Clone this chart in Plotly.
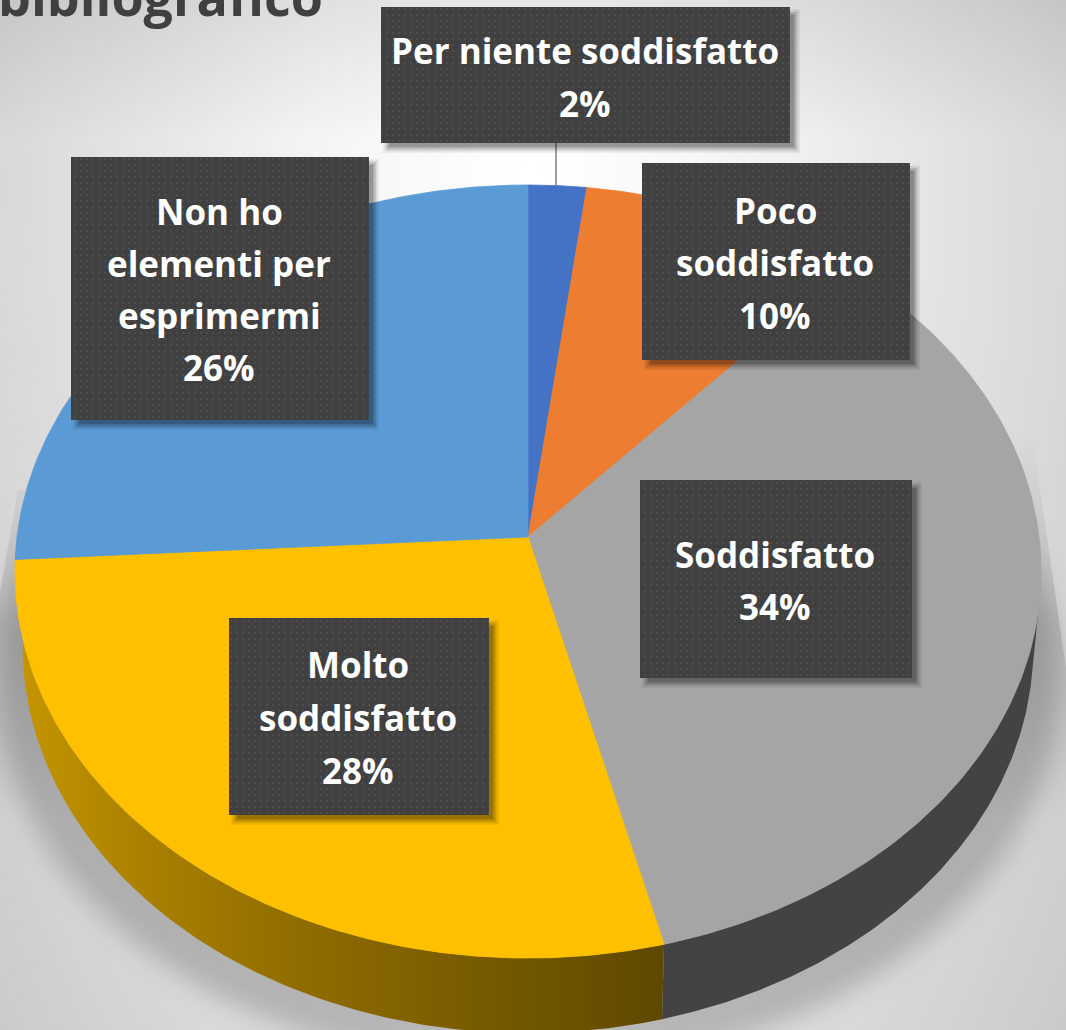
import base64
import numpy as np
import plotly.graph_objects as go

# ---- data ----
categories = ["Per niente soddisfatto", "Poco soddisfatto", "Soddisfatto", "Molto soddisfatto", "Non ho elementi per esprimermi"]
shares = [2, 9.6, 34.49, 27.98, 25.93]
slice_colors = ["#4472c4", "#ed7d31", "#a5a5a5", "#ffc000", "#5b9bd5"]
label_lines = [["Per niente soddisfatto"], ["Poco", "soddisfatto"], ["Soddisfatto"], ["Molto", "soddisfatto"], ["Non ho", "elementi per", "esprimermi"]]
box_left = [381, 642, 640, 229, 71]
box_right = [790, 910, 912, 489, 369]
box_top = [7, 163, 480, 618, 157]
box_bottom = [143, 360, 678, 815, 420]
line_top_y = [50, 210, 554, 664, 211]
line_step = [53, 52.5, 52, 53, 52]
title_text = "bibliografico"

W, H = 1066, 1030
CX, APEX_Y, RX, RY, K = 528, 537, 511, 335.5, -0.0893
DEPTH, BOTTOM_SCALE = 75, 0.985


def rim(p0, p1, scale=1.0, dz=0.0, n=160):
    t = 2 * np.pi * np.linspace(p0, p1, n) / 100
    u, v = np.sin(t), -np.cos(t)
    d = 1 + K * v
    return CX + scale * RX * u / d, (RY * v + APEX_Y) / d + dz


cum = np.concatenate([[0], np.cumsum(shares)])

# ---- background picture: page gradient and the soft pie shadow ----
sx, sy = rim(0, 100, scale=1.035, dz=DEPTH + 36, n=240)
shadow_pts = " ".join(f"{a:.1f},{b:.1f}" for a, b in zip(sx, sy))
svg = f'''<svg xmlns="http://www.w3.org/2000/svg" width="{W}" height="{H}" viewBox="0 0 {W} {H}">
<defs>
<radialGradient id="bg" gradientUnits="userSpaceOnUse" cx="0" cy="0" r="1" gradientTransform="translate(530 190) scale(720 1440)">
<stop offset="0" stop-color="#ffffff"/><stop offset="0.3" stop-color="#f4f4f4"/>
<stop offset="0.74" stop-color="#d8d8d8"/><stop offset="1" stop-color="#c6c6c6"/></radialGradient>
<linearGradient id="topfade" x1="0" y1="0" x2="0" y2="140" gradientUnits="userSpaceOnUse">
<stop offset="0" stop-color="#000" stop-opacity="0.08"/><stop offset="1" stop-color="#000" stop-opacity="0"/></linearGradient>
<linearGradient id="wedge" x1="0" y1="430" x2="0" y2="820" gradientUnits="userSpaceOnUse">
<stop offset="0" stop-color="#000" stop-opacity="0"/><stop offset="0.5" stop-color="#000" stop-opacity="0.13"/>
<stop offset="1" stop-color="#000" stop-opacity="0"/></linearGradient>
<filter id="blur" x="-20%" y="-20%" width="140%" height="140%"><feGaussianBlur stdDeviation="13"/></filter>
</defs>
<rect width="{W}" height="{H}" fill="url(#bg)"/>
<rect width="{W}" height="140" fill="url(#topfade)"/>
<polygon points="1030,420 1088,820 -40,820 18,490" fill="url(#wedge)"/>
<polygon points="{shadow_pts}" fill="#000" fill-opacity="0.19" filter="url(#blur)"/>
</svg>'''
bg_uri = "data:image/svg+xml;base64," + base64.b64encode(svg.encode()).decode()

fig = go.Figure()

# side wall (only its visible lower part)
WALL_START = 28
wx, wy = rim(WALL_START, cum[3])
bx, by = rim(WALL_START, cum[3], BOTTOM_SCALE, DEPTH)
fig.add_trace(go.Scatter(x=np.r_[wx, bx[::-1]], y=np.r_[wy, by[::-1]], mode="lines", fill="toself",
                         fillcolor="#434343", line=dict(width=0), hoverinfo="skip"))
wx, wy = rim(cum[3], cum[4])
bx, by = rim(cum[3], cum[4], BOTTOM_SCALE, DEPTH)
fig.add_trace(go.Scatter(x=np.r_[wx, bx[::-1]], y=np.r_[wy, by[::-1]], mode="lines", fill="toself",
                         line=dict(width=0), hoverinfo="skip",
                         fillgradient=dict(type="horizontal", start=15, stop=663,
                                           colorscale=[[0, "#c59600"], [0.2, "#a98000"], [0.45, "#8f6c00"], [1, "#5f4800"]])))

# top face
for i, c in enumerate(slice_colors):
    ax, ay = rim(cum[i], cum[i + 1])
    fig.add_trace(go.Scatter(x=np.r_[CX, ax, CX], y=np.r_[APEX_Y, ay, APEX_Y], mode="lines", fill="toself",
                             fillcolor=c, line=dict(width=0.8, color=c), hoverinfo="skip", name=categories[i]))

# leader line of the smallest slice
fig.add_trace(go.Scatter(x=[556, 556], y=[box_bottom[0], 186], mode="lines",
                         line=dict(color="#7f7f7f", width=1.5), hoverinfo="skip"))

# soft box shadows
for l, r, t, b in zip(box_left, box_right, box_top, box_bottom):
    for grow, alpha in [(4, 0.05), (2.5, 0.07), (1, 0.09), (-0.5, 0.12), (-2, 0.14)]:
        fig.add_trace(go.Scatter(x=[l + 6 - grow, r + 6 + grow, r + 6 + grow, l + 6 - grow, l + 6 - grow],
                                 y=[t + 6 - grow, t + 6 - grow, b + 6 + grow, b + 6 + grow, t + 6 - grow],
                                 mode="lines", fill="toself", fillcolor=f"rgba(0,0,0,{alpha})",
                                 line=dict(width=0), hoverinfo="skip"))

# label boxes (second axes pair so they sit above the pie)
for l, r, t, b in zip(box_left, box_right, box_top, box_bottom):
    fig.add_trace(go.Bar(x=[(l + r) / 2], y=[b - t], base=[t], width=[r - l], xaxis="x2", yaxis="y2",
                         marker=dict(color="#404040", line=dict(width=0),
                                     pattern=dict(shape=".", size=6, solidity=0.07,
                                                  fgcolor="#666666", bgcolor="#404040")),
                         hoverinfo="skip"))

annotations = []
FONT = "Open Sans"
for lines, share, l, r, y0, step in zip(label_lines, shares, box_left, box_right, line_top_y, line_step):
    rows = lines + [f"{round(share)}%"]
    for j, row in enumerate(rows):
        annotations.append(dict(x=(l + r) / 2 - 1, y=y0 + j * step, xref="x2", yref="y2", text=row, showarrow=False,
                                xanchor="center", yanchor="middle",
                                font=dict(family=FONT, size=35, color="#ffffff", weight="bold")))
annotations.append(dict(x=-4 / W, y=1 - 33 / H, xref="paper", yref="paper", text=title_text, showarrow=False,
                        xanchor="left", yanchor="bottom",
                        font=dict(family=FONT, size=52, color="#404040", weight="bold")))

axis = dict(range=[0, W], visible=False, fixedrange=True)
yaxis = dict(range=[H, 0], visible=False, fixedrange=True)
fig.update_layout(
    width=W, height=H, margin=dict(l=0, r=0, t=0, b=0), showlegend=False, barmode="overlay",
    paper_bgcolor="#ffffff", plot_bgcolor="rgba(0,0,0,0)",
    xaxis=axis, yaxis=yaxis,
    xaxis2=dict(axis, overlaying="x"), yaxis2=dict(yaxis, overlaying="y"),
    annotations=annotations,
    images=[dict(source=bg_uri, xref="paper", yref="paper", x=0, y=1, sizex=1, sizey=1,
                 xanchor="left", yanchor="top", sizing="stretch", layer="below")],
)
fig.write_html("out.html", config=dict(displayModeBar=False),
               post_script="document.body.style.margin='0';document.body.style.overflow='hidden';")
